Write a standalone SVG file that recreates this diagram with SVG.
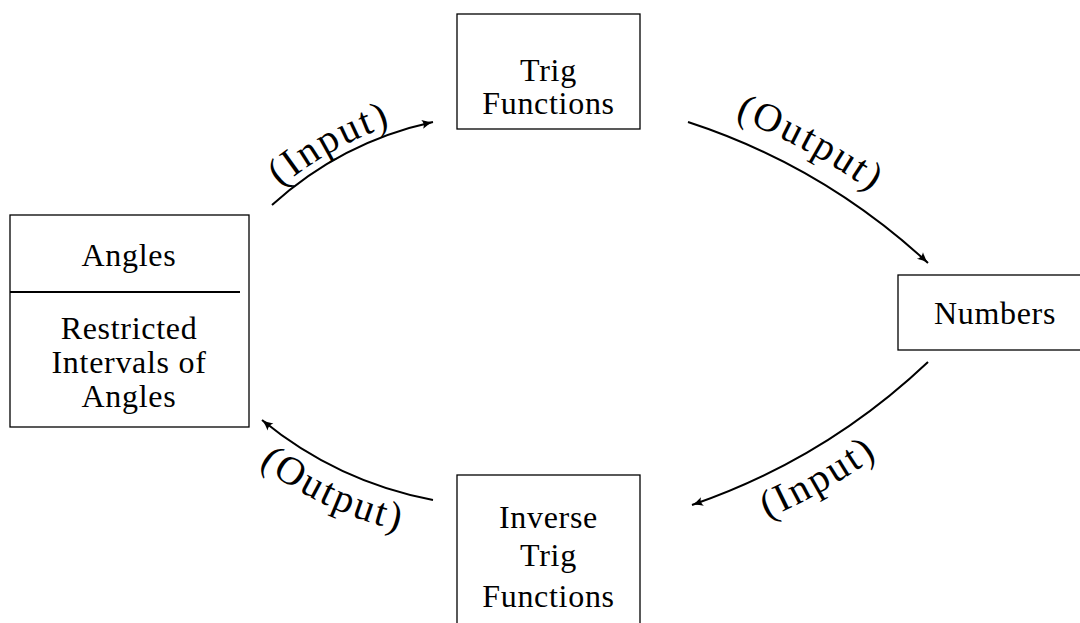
<svg xmlns="http://www.w3.org/2000/svg" width="1080" height="623" viewBox="0 0 1080 623">
  <style>
    .box { fill: #fff; stroke: #000; stroke-width: 1.3; }
    .rule { stroke: #000; stroke-width: 2; }
    .t { font-family: "Liberation Serif", "Times New Roman", serif; font-size: 32px; letter-spacing: 0.7px; fill: #000; text-anchor: middle; }
    .lbl { font-family: "Liberation Serif", "Times New Roman", serif; font-size: 40px; letter-spacing: 2.5px; fill: #000; }
    .edge { fill: none; stroke: #000; stroke-width: 2; marker-end: url(#head); }
  </style>
  <defs>
    <marker id="head" markerUnits="userSpaceOnUse" viewBox="-12 -6 13 12" refX="0" refY="0" markerWidth="13" markerHeight="12" orient="auto">
      <path d="M-11,-4.5 Q-5,-1.2 0,0 Q-5,1.2 -11,4.5 Q-8,0 -11,-4.5 Z" fill="#000"/>
    </marker>
    <!-- baselines for the sloped edge labels -->
    <path id="p-in-top" d="M268.3,197.9 Q337.8,134.9 429.3,114.9"/>
    <path id="p-out-top" d="M698.1,104.8 Q833.1,148.8 938.1,245.8"/>
    <path id="p-in-bot" d="M713.2,540.1 Q846.8,494.1 949.2,397.1"/>
    <path id="p-out-bot" d="M245.9,454.4 Q321.2,516.2 416.9,534.4"/>
  </defs>

  <rect width="1080" height="623" fill="#fff"/>

  <g id="connectors">
    <path class="edge" d="M272,205 Q341.5,142 433,122"/>
    <path class="edge" d="M688,122 Q823,166 928,263"/>
    <path class="edge" d="M928,362 Q825.6,459 692,505"/>
    <path class="edge" d="M433,500 Q337.3,481.8 262,420"/>
    <text class="lbl"><textPath href="#p-in-top" startOffset="44%" text-anchor="middle">(Input)</textPath></text>
    <text class="lbl"><textPath href="#p-out-top" startOffset="42%" text-anchor="middle">(Output)</textPath></text>
    <text class="lbl"><textPath href="#p-in-bot" startOffset="44%" text-anchor="middle">(Input)</textPath></text>
    <text class="lbl"><textPath href="#p-out-bot" startOffset="50%" text-anchor="middle">(Output)</textPath></text>
  </g>

  <g id="angles">
    <rect class="box" x="10" y="215" width="239" height="212"/>
    <line class="rule" x1="10" y1="292" x2="240" y2="292"/>
    <text class="t" x="129" y="266">Angles</text>
    <text class="t" x="129" y="339">Restricted</text>
    <text class="t" x="129" y="373">Intervals of</text>
    <text class="t" x="129" y="407">Angles</text>
  </g>

  <g id="trig">
    <rect class="box" x="457" y="14" width="183" height="115"/>
    <text class="t" x="548.5" y="81">Trig</text>
    <text class="t" x="548.5" y="114">Functions</text>
  </g>

  <g id="numbers">
    <rect class="box" x="898" y="275" width="190" height="75"/>
    <text class="t" x="995" y="324">Numbers</text>
  </g>

  <g id="inverse">
    <rect class="box" x="457" y="475" width="183" height="160"/>
    <text class="t" x="548.5" y="528">Inverse</text>
    <text class="t" x="548.5" y="566">Trig</text>
    <text class="t" x="548.5" y="607">Functions</text>
  </g>
</svg>
